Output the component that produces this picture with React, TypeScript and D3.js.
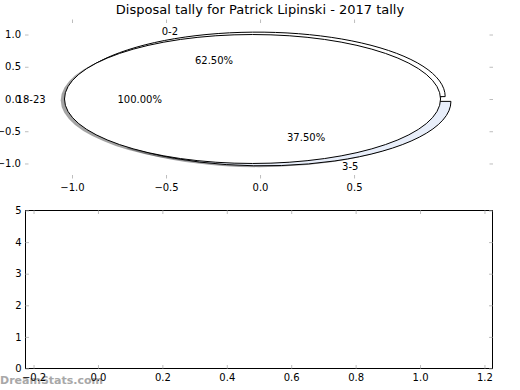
import React, { useEffect, useRef } from "react";
import * as d3 from "d3";

// pie data (two pies drawn into the same axes)
const ageLabelsA = ["0-2", "3-5"];
const ageValuesA = [5, 3];
const ageColorsA = ["#ffffff", "#e8eefa"];
const ageLabelsB = ["18-23"];
const ageValuesB = [1];
const ageColorsB = ["#ffffff"];
const explode = 0.04;

// tick values
const topXTicks = [-1.0, -0.5, 0.0, 0.5];
const topYTicks = [-1.0, -0.5, 0.0, 0.5, 1.0];
const bottomXTicks = [-0.2, 0.0, 0.2, 0.4, 0.6, 0.8, 1.0, 1.2];
const bottomYTicks = [0, 1, 2, 3, 4, 5];

const title = "Disposal tally for Patrick Lipinski - 2017 tally";
const watermark = "DreamStats.com";

const W = 520;
const H = 390;
const FONT = "DejaVu Sans, sans-serif";
const TICK = "#bdbdbd";

const App: React.FC = () => {
  const svgRef = useRef<SVGSVGElement | null>(null);

  useEffect(() => {
    const svg = d3.select(svgRef.current);
    svg.selectAll("*").remove();

    const left = 25;
    const right = 493;

    // ---------- top axes (pie) ----------
    const x = d3.scaleLinear().domain([-1.25, 1.239]).range([left, right]);
    const y = d3.scaleLinear().domain([-1.233, 1.233]).range([178.5, 19.5]);
    const kx = x(1) - x(0);
    const ky = y(0) - y(1);

    const top = svg.append("g");

    const styleAxis = (g: d3.Selection<SVGGElement, unknown, null, undefined>) => {
      g.select(".domain").remove();
      g.selectAll(".tick line").attr("stroke", TICK);
      g.attr("font-family", FONT).attr("font-size", 10);
      g.selectAll(".tick text").attr("fill", "#000");
    };

    top.append("g").attr("transform", `translate(0,${y.range()[0]})`)
      .call(d3.axisBottom(x).tickValues(topXTicks).tickFormat(d3.format(".1f") as any).tickSize(-3.5).tickPadding(5))
      .call(styleAxis);
    top.append("g").attr("transform", `translate(0,${y.range()[1]})`)
      .call(d3.axisTop(x).tickValues(topXTicks).tickFormat(() => "").tickSize(-3.5))
      .call(styleAxis);
    top.append("g").attr("transform", `translate(${left},0)`)
      .call(d3.axisLeft(y).tickValues(topYTicks).tickFormat(d3.format(".1f") as any).tickSize(-3.5).tickPadding(4))
      .call(styleAxis);
    top.append("g").attr("transform", `translate(${right},0)`)
      .call(d3.axisRight(y).tickValues(topYTicks).tickFormat(() => "").tickSize(-3.5))
      .call(styleAxis);

    const pieGen = d3.pie<number>().sort(null)
      .startAngle(Math.PI / 2)
      .endAngle(Math.PI / 2 - 2 * Math.PI);
    const arcGen = d3.arc<d3.PieArcDatum<number>>().innerRadius(0).outerRadius(1);

    const pies = [
      { labels: ageLabelsA, values: ageValuesA, colors: ageColorsA },
      { labels: ageLabelsB, values: ageValuesB, colors: ageColorsB },
    ].map((p) => {
      const arcs = pieGen(p.values).map((d, i) => {
        const mid = (d.startAngle + d.endAngle) / 2;
        const dx = Math.sin(mid);
        const dy = Math.cos(mid);
        return { d, i, dx, dy, cx: explode * dx, cy: explode * dy };
      });
      const total = d3.sum(p.values);
      return { ...p, arcs, total };
    });

    const shadowG = top.append("g");
    const wedgeG = top.append("g");
    const textG = top.append("g").attr("font-family", FONT).attr("font-size", 10);

    // shadows sit under every wedge
    pies.forEach((p) => {
      p.arcs.forEach((a) => {
        shadowG.append("path")
          .attr("d", arcGen(a.d) as string)
          .attr("transform", `translate(${x(a.cx - 0.02)},${y(a.cy - 0.02)}) scale(${kx},${ky})`)
          .attr("fill", d3.color(p.colors[a.i])!.darker(3.5).formatHex())
          .attr("fill-opacity", 0.5);
      });
    });

    pies.forEach((p) => {
      p.arcs.forEach((a) => {
        wedgeG.append("path")
          .attr("d", arcGen(a.d) as string)
          .attr("transform", `translate(${x(a.cx)},${y(a.cy)}) scale(${kx},${ky})`)
          .attr("fill", p.colors[a.i])
          .attr("stroke", "#000")
          .attr("stroke-width", 1)
          .attr("vector-effect", "non-scaling-stroke");

        const lx = a.cx + 1.1 * a.dx;
        const ly = a.cy + 1.1 * a.dy;
        textG.append("text")
          .attr("x", x(lx))
          .attr("y", y(ly))
          .attr("dy", "0.35em")
          .attr("text-anchor", lx > 0 ? "start" : "end")
          .text(p.labels[a.i]);

        const px = a.cx + 0.6 * a.dx;
        const py = a.cy + 0.6 * a.dy;
        textG.append("text")
          .attr("x", x(px))
          .attr("y", y(py))
          .attr("dy", "0.35em")
          .attr("text-anchor", "middle")
          .text(d3.format(".2f")((100 * p.values[a.i]) / p.total) + "%");
      });
    });

    svg.append("text")
      .attr("x", W / 2)
      .attr("y", 14)
      .attr("text-anchor", "middle")
      .attr("font-family", FONT)
      .attr("font-size", 13)
      .text(title);

    // ---------- bottom axes (empty) ----------
    const bx = d3.scaleLinear().domain([-0.2265, 1.2265]).range([left, right]);
    const by = d3.scaleLinear().domain([0, 5]).range([368.5, 210.5]);

    svg.append("text")
      .attr("x", 0)
      .attr("y", 384)
      .attr("font-family", FONT)
      .attr("font-size", 11)
      .attr("font-weight", "bold")
      .attr("fill", "#a8a8a8")
      .text(watermark);

    const bottom = svg.append("g");
    bottom.append("rect")
      .attr("x", left + 0.5)
      .attr("y", by(5))
      .attr("width", right - left - 1)
      .attr("height", by(0) - by(5))
      .attr("fill", "none")
      .attr("stroke", "#000")
      .attr("stroke-width", 1);

    bottom.append("g").attr("transform", `translate(0,${by(0)})`)
      .call(d3.axisBottom(bx).tickValues(bottomXTicks).tickFormat(d3.format(".1f") as any).tickSize(-3.5).tickPadding(5))
      .call(styleAxis);
    bottom.append("g").attr("transform", `translate(0,${by(5)})`)
      .call(d3.axisTop(bx).tickValues(bottomXTicks).tickFormat(() => "").tickSize(-3.5))
      .call(styleAxis);
    bottom.append("g").attr("transform", `translate(${left + 0.5},0)`)
      .call(d3.axisLeft(by).tickValues(bottomYTicks).tickFormat(d3.format("d") as any).tickSize(-3.5).tickPadding(4))
      .call(styleAxis);
    bottom.append("g").attr("transform", `translate(${right - 0.5},0)`)
      .call(d3.axisRight(by).tickValues(bottomYTicks).tickFormat(() => "").tickSize(-3.5))
      .call(styleAxis);
  }, []);

  return (
    <svg
      ref={svgRef}
      width={W}
      height={H}
      style={{ position: "absolute", left: 0, top: 0, background: "#fff" }}
    />
  );
};

export default App;
